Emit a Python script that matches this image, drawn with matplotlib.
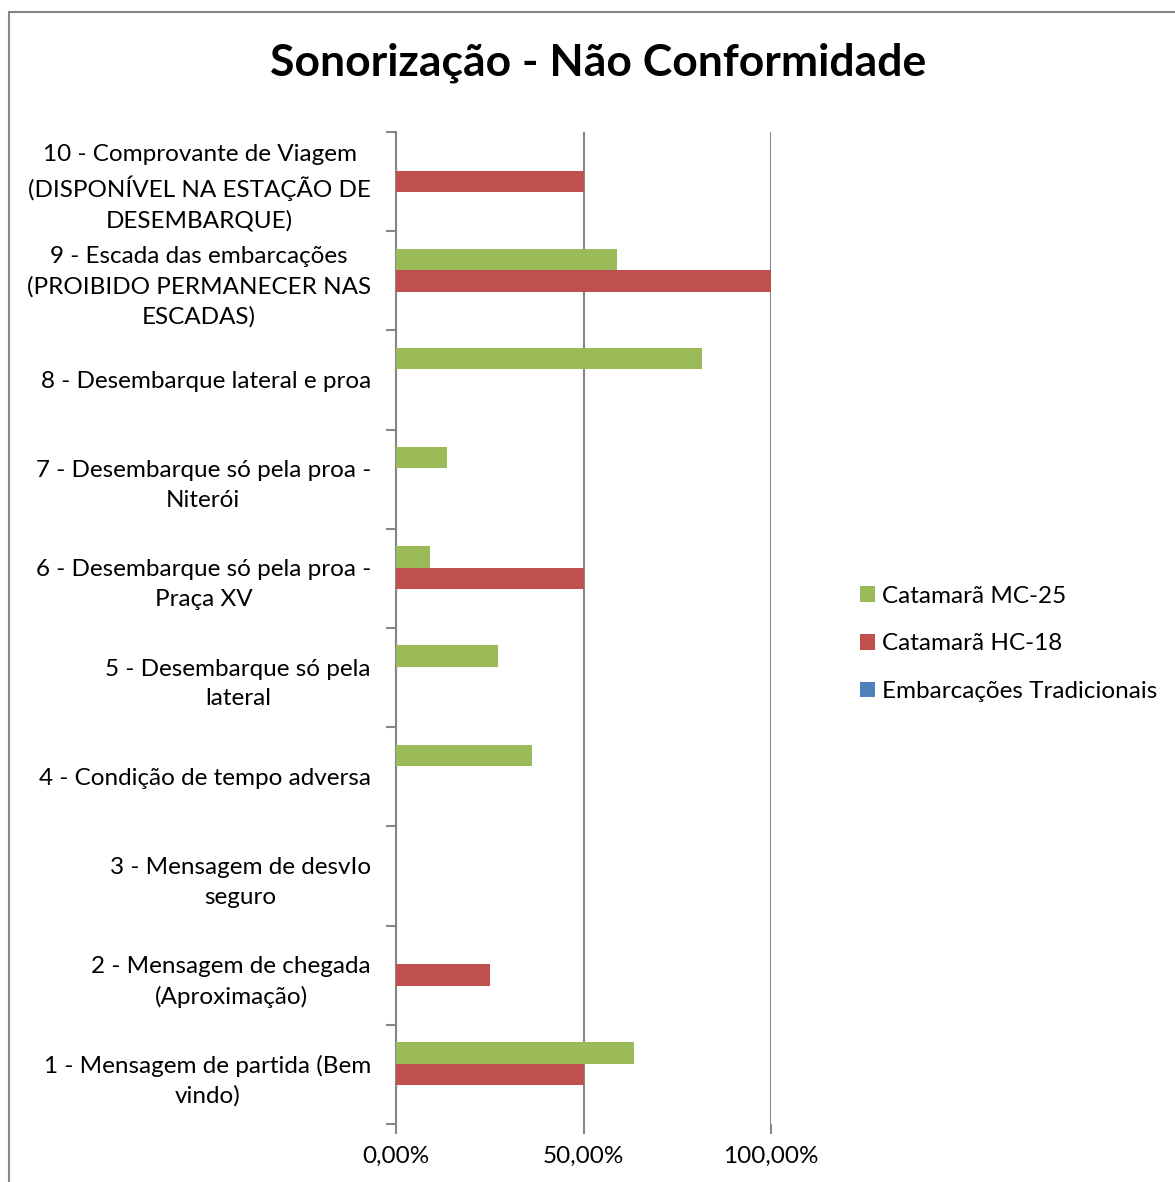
import numpy as np
import matplotlib.pyplot as plt
from matplotlib.patches import Rectangle

plt.rcParams["font.family"] = ["Lato", "DejaVu Sans"]

categories = [
    "1 - Mensagem de partida (Bem\nvindo)",
    "2 - Mensagem de chegada\n(Aproximação)",
    "3 - Mensagem de desvIo\nseguro",
    "4 - Condição de tempo adversa",
    "5 - Desembarque só pela\nlateral",
    "6 - Desembarque só pela proa -\nPraça XV",
    "7 - Desembarque só pela proa -\nNiterói",
    "8 - Desembarque lateral e proa",
    "9 - Escada das embarcações\n(PROIBIDO PERMANECER NAS\nESCADAS)",
    "10 - Comprovante de Viagem\n(DISPONÍVEL NA ESTAÇÃO DE\nDESEMBARQUE)",
]
mc25 = [63.5, 0, 0, 36.3, 27.2, 9.1, 13.6, 81.6, 58.9, 0]
hc18 = [50, 25, 0, 0, 0, 50, 0, 0, 100, 50]
tradicionais = [0, 0, 0, 0, 0, 0, 0, 0, 0, 0]
xticks = [0, 50, 100]
xticklabels = ["0,00%", "50,00%", "100,00%"]

fs = 17.5
fig = plt.figure(figsize=(11.75, 11.82), dpi=100)
ax = fig.add_axes([396 / 1175, 58 / 1182, 375 / 1175, 992 / 1182])

y = np.arange(len(categories))
h = 0.217
ax.barh(y + h, mc25, height=h, color="#9BBB59", label="Catamarã MC-25", zorder=3)
ax.barh(y, hc18, height=h, color="#C0504D", label="Catamarã HC-18", zorder=3)
ax.barh(y - h, tradicionais, height=h, color="#4F81BD", label="Embarcações Tradicionais", zorder=3)

ax.set_xlim(0, 100)
ax.set_ylim(-0.5, len(categories) - 0.5)
ax.set_xticks(xticks)
ax.set_xticklabels(xticklabels, fontsize=fs)
ax.set_yticks(y)
ax.set_yticklabels(categories, fontsize=fs, ha="right", multialignment="center",
                   linespacing=1.5)
ax.set_yticks(np.arange(-0.5, len(categories)), minor=True)
ax.tick_params(axis="y", which="major", length=0, pad=18)
ax.tick_params(axis="y", which="minor", length=7, color="#868686", width=1.5, direction="out")
ax.tick_params(axis="x", length=7, color="#868686", width=1.5, direction="out", pad=9)

ax.grid(axis="x", color="#868686", linewidth=1.5, zorder=0)
for s in ["top", "right", "bottom"]:
    ax.spines[s].set_visible(False)
ax.spines["left"].set_color("#868686")
ax.spines["left"].set_linewidth(1.5)

fig.text(598 / 1175, 1 - 63 / 1182, "Sonorização - Não Conformidade",
         fontsize=32, fontweight="bold", ha="center", va="center")

ax.legend(loc="center left", bbox_to_anchor=(1.178, 0.484), frameon=False, fontsize=fs,
          handlelength=0.62, handleheight=0.62, handletextpad=0.3, labelspacing=1.1)

fig.patches.append(Rectangle((9 / 1175, -0.1), 1.2, 1 - 12 / 1182 + 0.1,
                             transform=fig.transFigure, fill=False,
                             edgecolor="#868686", linewidth=1.5))

fig.savefig("out.png", dpi=100)
